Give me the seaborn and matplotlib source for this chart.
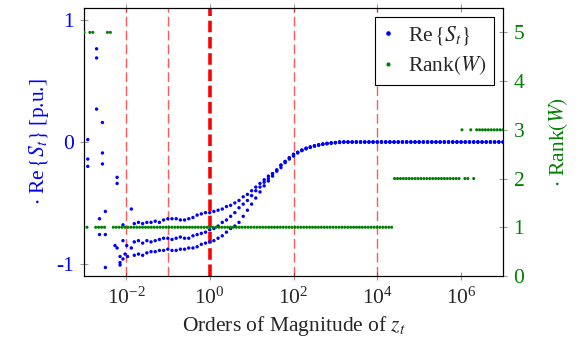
import numpy as np
import pandas as pd
import matplotlib
matplotlib.use("Agg")
import matplotlib.pyplot as plt
from matplotlib.ticker import NullLocator
from matplotlib.lines import Line2D
import seaborn as sns

# ---------------- data ----------------
# scattered low-frequency points (exponent of z_t, Re{S_t})
early_exp = [-2.91, -2.91, -2.91, -2.70, -2.70, -2.70, -2.63, -2.63,
             -2.56, -2.56, -2.56, -2.49, -2.49, -2.49, -2.26, -2.21,
             -2.21, -2.21, -2.14, -2.14, -2.14, -2.07, -2.07, -2.07,
             -2.02, -1.98, -1.96, -1.87, -1.87]
early_val = [0.02, -0.14, -0.20, 0.765, 0.69, 0.27, -0.63, -0.76,
             0.16, -0.09, -0.18, -0.57, -0.76, -1.03, -0.85, -0.29,
             -0.34, -0.87, -0.94, -0.99, -1.01, -0.68, -0.81, -0.96,
             -0.92, -0.85, -0.94, -0.55, -0.87]

# three branches sampled every 0.1 decade from 10^-1.8 to 10^3.0, then zero plateau
curve_start, curve_step = -1.8, 0.1
upper = [-0.67, -0.66, -0.67, -0.66, -0.66, -0.65, -0.66, -0.64, -0.63, -0.63,
         -0.63, -0.64, -0.64, -0.63, -0.62, -0.60, -0.59, -0.58, -0.58, -0.57,
         -0.56, -0.55, -0.53, -0.52, -0.50, -0.48, -0.45, -0.43, -0.40, -0.37,
         -0.34, -0.31, -0.28, -0.26, -0.23, -0.19, -0.16, -0.13, -0.10, -0.085,
         -0.07, -0.055, -0.045, -0.035, -0.027, -0.02, -0.015, -0.01, -0.007,
         -0.004] + [0.0] * 40
middle = [-0.82, -0.81, -0.83, -0.81, -0.82, -0.81, -0.80, -0.79, -0.79,
          -0.80, -0.79, -0.78, -0.79, -0.79, -0.77, -0.76, -0.75, -0.74, -0.72,
          -0.71, -0.69, -0.66, -0.64, -0.61, -0.58, -0.54, -0.51, -0.48, -0.44,
          -0.40, -0.37, -0.33, -0.30, -0.26, -0.23, -0.19, -0.16, -0.13, -0.105,
          -0.085, -0.065, -0.05, -0.04, -0.03, -0.022, -0.016, -0.011, -0.007,
          -0.004] + [0.0] * 40
lower = [-0.93, -0.92, -0.93, -0.91, -0.90, -0.90, -0.89, -0.89, -0.88,
         -0.89, -0.89, -0.88, -0.88, -0.87, -0.87, -0.86, -0.84, -0.83, -0.82,
         -0.81, -0.79, -0.77, -0.74, -0.71, -0.69, -0.66, -0.61, -0.56, -0.51,
         -0.46, -0.41, -0.36, -0.32, -0.28, -0.24, -0.21, -0.17, -0.14, -0.115,
         -0.09, -0.07, -0.055, -0.042, -0.032, -0.024, -0.017, -0.012, -0.008,
         -0.005] + [0.0] * 40

# rank of W on a log grid of 144 points from 10^-3 to 10^7
rank = [5, 1, 5, 5, 1, 1, 1, 1, 5, 5] + [1] * 96 + [2] * 23 + [3, 2, 2, 3, 2] + [3] * 10

vlines = [1e-2, 1e-1, 1e2, 1e4]
vline_thick = 1e0
xticks = [1e-2, 1e0, 1e2, 1e4, 1e6]
left_ticks = [-1, 0, 1]
right_ticks = [0, 1, 2, 3, 4, 5]

# ---------------- build tables ----------------
def branch_x(n_upper):
    return [10 ** (curve_start + curve_step * i) for i in range(n_upper)]

rows = [(10 ** e, v) for e, v in zip(early_exp, early_val)]
for br in (upper, middle, lower):
    rows += list(zip(branch_x(len(br)), br))
df_s = pd.DataFrame(rows, columns=["z", "S"])

df_r = pd.DataFrame({"z": np.logspace(-3, 7, len(rank)), "rank": rank})

# ---------------- style ----------------
sns.set_style("ticks")
plt.rcParams["font.family"] = ["Liberation Serif", "DejaVu Serif"]
plt.rcParams["mathtext.fontset"] = "stix"
plt.rcParams["axes.unicode_minus"] = False
plt.rcParams["axes.formatter.use_mathtext"] = True

BLUE = "#0000ff"
GREEN = "#008000"
FS = 15.5

fig = plt.figure(figsize=(5.84, 3.41), dpi=100)
ax = fig.add_axes([84 / 584, 1 - 276 / 341, (503 - 84) / 584, (276 - 8) / 341])
ax2 = ax.twinx()

for xv in vlines:
    ax.axvline(xv, color="red", alpha=0.65, lw=1.0, dashes=(7, 3), zorder=1)
ax.axvline(vline_thick, color="red", lw=2.6, dashes=(3.2, 1.3), zorder=1)

sns.scatterplot(data=df_s, x="z", y="S", ax=ax, color=BLUE, s=6,
                edgecolor="none", linewidth=0, zorder=3, legend=False)
sns.scatterplot(data=df_r, x="z", y="rank", ax=ax2, color=GREEN, s=5,
                edgecolor="none", linewidth=0, zorder=3, legend=False)

ax.set_xscale("log")
ax.set_xlim(1e-3, 1e7)
ax.set_ylim(-1.1, 1.1)
ax2.set_ylim(0, 5.5)
ax.set_xticks(xticks)
ax.xaxis.set_minor_locator(NullLocator())
ax.set_yticks(left_ticks)
ax2.set_yticks(right_ticks)
ax.set_yticklabels([str(t) for t in left_ticks])

ax.tick_params(axis="x", which="major", direction="inout", length=6, color="#999999",
               labelsize=FS, top=True, pad=5)
ax.tick_params(axis="y", direction="inout", length=6, color="#999999",
               labelsize=FS, labelcolor=BLUE, pad=4)
ax2.tick_params(axis="y", direction="inout", length=6, color="#999999",
                labelsize=FS, labelcolor=GREEN, pad=4)

for a in (ax, ax2):
    for sp in a.spines.values():
        sp.set_linewidth(0.8)
        sp.set_color("black")

ax.set_xlabel(r"Orders of Magnitude of $z_t$", fontsize=FS, labelpad=4)
ax.set_ylabel(r"$\cdot$ Re$\,\{S_t\}$ [p.u.]", fontsize=FS, color=BLUE, labelpad=4)
ax2.set_ylabel(r"$\cdot$ Rank$(W)$", fontsize=FS, color=GREEN, labelpad=16)

handles = [Line2D([], [], ls="none", marker="o", ms=2.3, color=BLUE),
           Line2D([], [], ls="none", marker="o", ms=2.0, color=GREEN)]
leg = ax2.legend(handles, [r"Re$\,\{S_t\}$", r"Rank$(W)$"], loc="upper right",
                 fontsize=FS, frameon=True, fancybox=False, framealpha=1,
                 edgecolor="black", borderaxespad=0.4, handlelength=0.5,
                 handletextpad=0.7, borderpad=0.35, labelspacing=0.35)
leg.get_frame().set_linewidth(0.8)

fig.savefig("out.png", dpi=100)
